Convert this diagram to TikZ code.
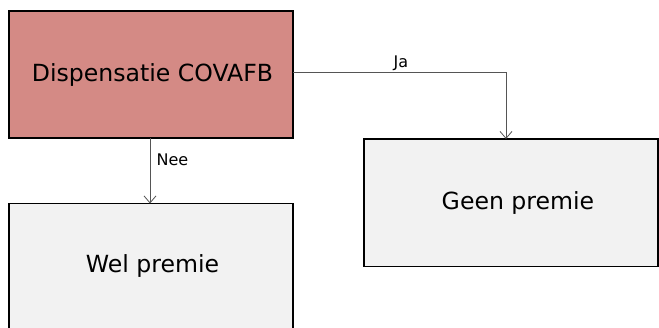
\documentclass[tikz,border=0pt]{standalone}
\usepackage{fontspec}
\setmainfont{DejaVu Sans}
\usetikzlibrary{arrows.meta}
\definecolor{boxred}{HTML}{D48A85}
\definecolor{boxgray}{HTML}{F2F2F2}
\definecolor{linegray}{HTML}{555555}
\tikzset{
  box/.style={draw=black, line width=1.5pt, inner sep=0pt, font=\fontsize{23.6}{28}\selectfont},
  conn/.style={draw=linegray, line width=0.9pt, -{Straight Barb[length=7pt,width=12pt,line width=0.8pt]}},
  lbl/.style={font=\fontsize{16}{19}\selectfont, inner sep=0pt}
}
\begin{document}
\begin{tikzpicture}[x=1pt,y=-1pt]
\useasboundingbox (0,0) rectangle (659,327);
\fill[white] (0,0) rectangle (659,327);
\draw[box, fill=boxred] (9,11) rectangle (293,138);
\node[box, draw=none] (a) at (152.5,74.5) {Dispensatie COVAFB};
\coordinate (aR) at (293,72.5);
\coordinate (aB) at (150,138);
\draw[box, fill=boxgray] (364,139) rectangle (658,266.5);
\node[box, draw=none] (b) at (518,202.8) {Geen premie};
\coordinate (bT) at (506,139);
\draw[box, fill=boxgray] (9,203.5) rectangle (293,331);
\node[box, draw=none] (c) at (152.5,265.5) {Wel premie};
\coordinate (cT) at (150,203.5);
\coordinate (corner) at (506,72.5);
\draw[conn] (aR) -- (corner) -- (bT);
\draw[conn] (aB) -- (cT);
\node[lbl] (ja) at (401,63) {Ja};
\node[lbl] (nee) at (172.5,159.5) {Nee};
\end{tikzpicture}
\end{document}
